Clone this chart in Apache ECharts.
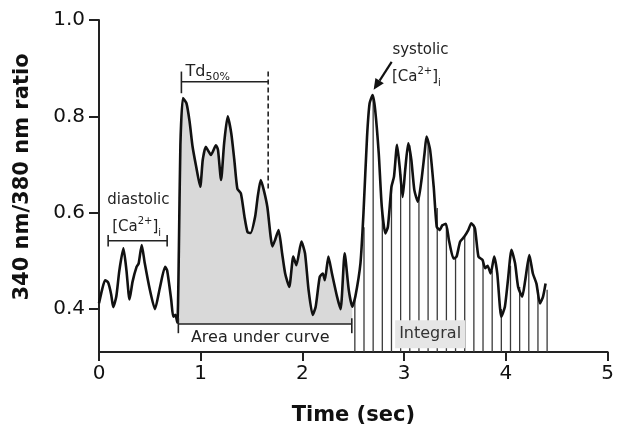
<!DOCTYPE html>
<html><head><meta charset="utf-8">
<script src="https://cdn.jsdelivr.net/npm/echarts@6/dist/echarts.min.js"></script>
<style>html,body{margin:0;padding:0;background:#fff}#c{width:617px;height:432px}</style>
</head><body><div id="c"></div>
<script>
// Trace (time in s, 340/380 ratio)
const times = [0.00,0.03,0.06,0.09,0.12,0.14,0.17,0.20,0.24,0.27,0.30,0.33,0.37,0.39,0.42,0.45,0.50,0.55,0.60,0.65,0.67,0.71,0.73,0.75,0.77,0.785,0.80,0.825,0.86,0.89,0.92,0.955,0.995,1.02,1.05,1.07,1.10,1.15,1.17,1.20,1.23,1.265,1.30,1.33,1.36,1.395,1.43,1.46,1.49,1.535,1.56,1.59,1.62,1.655,1.705,1.73,1.765,1.80,1.83,1.87,1.91,1.94,1.99,2.025,2.06,2.10,2.13,2.17,2.20,2.22,2.255,2.29,2.34,2.375,2.415,2.455,2.49,2.52,2.57,2.60,2.635,2.66,2.69,2.715,2.75,2.78,2.815,2.84,2.875,2.90,2.93,2.955,2.985,3.01,3.04,3.07,3.10,3.135,3.17,3.20,3.22,3.255,3.29,3.32,3.35,3.375,3.41,3.44,3.485,3.515,3.55,3.59,3.63,3.66,3.695,3.73,3.77,3.795,3.82,3.85,3.885,3.915,3.955,3.99,4.02,4.055,4.09,4.12,4.16,4.19,4.23,4.265,4.30,4.335,4.365,4.39];
const ratios = [0.412,0.44,0.46,0.455,0.43,0.404,0.426,0.48,0.526,0.48,0.42,0.457,0.488,0.495,0.533,0.495,0.44,0.40,0.446,0.488,0.48,0.419,0.384,0.388,0.372,0.52,0.74,0.838,0.827,0.79,0.737,0.696,0.654,0.71,0.737,0.73,0.72,0.74,0.73,0.668,0.744,0.80,0.765,0.71,0.65,0.64,0.592,0.56,0.558,0.592,0.633,0.668,0.647,0.612,0.53,0.543,0.564,0.516,0.474,0.446,0.509,0.491,0.54,0.516,0.44,0.388,0.405,0.467,0.474,0.46,0.509,0.474,0.426,0.40,0.516,0.44,0.405,0.426,0.495,0.60,0.758,0.827,0.844,0.813,0.723,0.612,0.557,0.571,0.654,0.675,0.741,0.696,0.633,0.689,0.744,0.71,0.647,0.623,0.668,0.723,0.758,0.73,0.654,0.571,0.564,0.574,0.577,0.543,0.505,0.509,0.54,0.55,0.564,0.578,0.568,0.509,0.502,0.485,0.49,0.474,0.509,0.474,0.384,0.405,0.46,0.523,0.495,0.446,0.426,0.46,0.512,0.474,0.453,0.412,0.426,0.453];
// Integral drop lines
const dropTimes = [2.515,2.605,2.695,2.785,2.875,2.965,3.055,3.145,3.235,3.325,3.415,3.505,3.595,3.685,3.775,3.865,3.955,4.045,4.135,4.225,4.315,4.405];
const dropRatios = [0.426,0.57,0.84,0.60,0.65,0.68,0.74,0.63,0.75,0.61,0.575,0.505,0.55,0.575,0.50,0.48,0.40,0.49,0.446,0.50,0.44,0.44];
const yTickValues = [0.4, 0.6, 0.8, 1.0];
const xTickValues = [0, 1, 2, 3, 4, 5];
const areaRange = [0.77, 2.49];
const areaBase = 0.369;

const FONT = 'DejaVu Sans';
const chart = echarts.init(document.getElementById('c'));
const trace = times.map((t, i) => [t, ratios[i]]);
const areaTrace = trace.filter(p => p[0] >= areaRange[0] && p[0] <= areaRange[1]);
const drops = dropTimes.map((t, i) => [t, dropRatios[i]]);

chart.setOption({
  animation: false,
  backgroundColor: '#fff',
  grid: {left: 99, right: 8, top: 20, bottom: 80},
  xAxis: {
    type: 'value', min: xTickValues[0], max: xTickValues[xTickValues.length-1], interval: 1,
    name: 'Time (sec)', nameLocation: 'middle', nameGap: 53,
    nameTextStyle: {fontFamily: FONT, fontWeight: 'bold', fontSize: 21, color: '#111'},
    axisLine: {onZero: false, lineStyle: {color: '#222', width: 2}},
    axisTick: {length: 9, lineStyle: {color: '#222', width: 2}},
    axisLabel: {fontFamily: FONT, fontSize: 20, color: '#111', margin: 12},
    splitLine: {show: false}
  },
  yAxis: {
    type: 'value', min: 0.311, max: 1.0,
    name: '340 nm/380 nm ratio', nameLocation: 'middle', nameGap: 66, nameRotate: 90,
    nameTextStyle: {fontFamily: FONT, fontWeight: 'bold', fontSize: 21, color: '#111', padding: [0, 0, 0, 18]},
    axisLine: {show: true, lineStyle: {color: '#222', width: 2}},
    axisTick: {show: true, length: 10, customValues: yTickValues, lineStyle: {color: '#222', width: 2}},
    axisLabel: {fontFamily: FONT, fontSize: 20, color: '#111', margin: 14, customValues: yTickValues,
      formatter: v => v.toFixed(1)},
    splitLine: {show: false}
  },
  series: [
    {type: 'line', data: areaTrace, symbol: 'none', smooth: 0.2, z: 1,
     lineStyle: {width: 0, opacity: 0}, areaStyle: {color: '#d9d9d9', opacity: 1, origin: areaBase}},
    {type: 'bar', data: drops, barWidth: 1.3, z: 2, itemStyle: {color: '#3a3a3a'}},
    {type: 'line', data: trace, symbol: 'none', smooth: 0.2, z: 5,
     lineStyle: {color: '#111', width: 2.6}}
  ]
});

const P = (t, v) => chart.convertToPixel({gridIndex: 0}, [t, v]);
const seg = (a, b, extra) => {
  const p = P(a[0], a[1]), q = P(b[0], b[1]);
  return {type: 'line', z: 20, shape: {x1: p[0], y1: p[1], x2: q[0], y2: q[1]},
    style: Object.assign({stroke: '#222', lineWidth: 1.6}, extra || {})};
};
const txt = (t, v, text, opts) => {
  const p = P(t, v);
  return {type: 'text', z: 30, x: p[0], y: p[1], style: Object.assign({
    text: text, fill: '#222', font: '15px "' + FONT + '"', align: 'center', verticalAlign: 'middle',
    rich: {
      n: {fontFamily: FONT, fontSize: 15, lineHeight: 22, fill: '#222'},
      sup: {fontFamily: FONT, fontSize: 10, lineHeight: 10, verticalAlign: 'top', fill: '#222'},
      sub: {fontFamily: FONT, fontSize: 10, lineHeight: 10, verticalAlign: 'bottom', fill: '#222'},
      td: {fontFamily: FONT, fontSize: 16, lineHeight: 22, fill: '#222'},
      tdsub: {fontFamily: FONT, fontSize: 11, lineHeight: 11, verticalAlign: 'bottom', fill: '#222'}
    }
  }, opts || {})};
};
const caText = '{n|[Ca}{sup|2+}{n|]}{sub|i}';

const g = [];
// diastolic bracket
g.push(seg([0.09, 0.542], [0.67, 0.542]));
g.push(seg([0.09, 0.554], [0.09, 0.530]));
g.push(seg([0.67, 0.554], [0.67, 0.530]));
g.push(txt(0.387, 0.626, 'diastolic', {font: '15px "' + FONT + '"'}));
g.push(txt(0.37, 0.570, caText));
// Td50% bracket
g.push(seg([0.81, 0.872], [1.663, 0.872]));
g.push(seg([0.81, 0.893], [0.81, 0.848]));
g.push(seg([1.663, 0.893], [1.663, 0.645], {lineDash: [5, 3]}));
g.push(txt(0.851, 0.893, '{td|Td}{tdsub|50%}', {align: 'left'}));
// systolic annotation + arrow
g.push(txt(3.16, 0.938, 'systolic', {font: '15px "' + FONT + '"'}));
g.push(txt(3.12, 0.881, caText));
(function () {
  const s = P(2.877, 0.913), e = P(2.70, 0.855);
  const dx = e[0] - s[0], dy = e[1] - s[1], L = Math.hypot(dx, dy);
  const ux = dx / L, uy = dy / L, hl = 11, hw = 5;
  const bx = e[0] - ux * hl, by = e[1] - uy * hl;
  g.push({type: 'line', z: 20, shape: {x1: s[0], y1: s[1], x2: bx, y2: by}, style: {stroke: '#111', lineWidth: 2.2}});
  g.push({type: 'polygon', z: 20, shape: {points: [[e[0], e[1]], [bx - uy * hw, by + ux * hw], [bx + uy * hw, by - ux * hw]]}, style: {fill: '#111'}});
})();
// Area under curve bracket
g.push(seg([0.78, areaBase], [2.485, areaBase]));
g.push(seg([0.78, 0.381], [0.78, 0.350]));
g.push(seg([2.485, 0.381], [2.485, 0.350]));
g.push(txt(1.585, 0.340, 'Area under curve', {font: '16px "' + FONT + '"', fill: '#222'}));
// Integral label
g.push(txt(3.255, 0.348, 'Integral', {font: '16px "' + FONT + '"', fill: '#333',
  backgroundColor: '#e6e6e6', padding: [6, 4, 6, 4]}));
chart.setOption({graphic: g});
</script></body></html>
